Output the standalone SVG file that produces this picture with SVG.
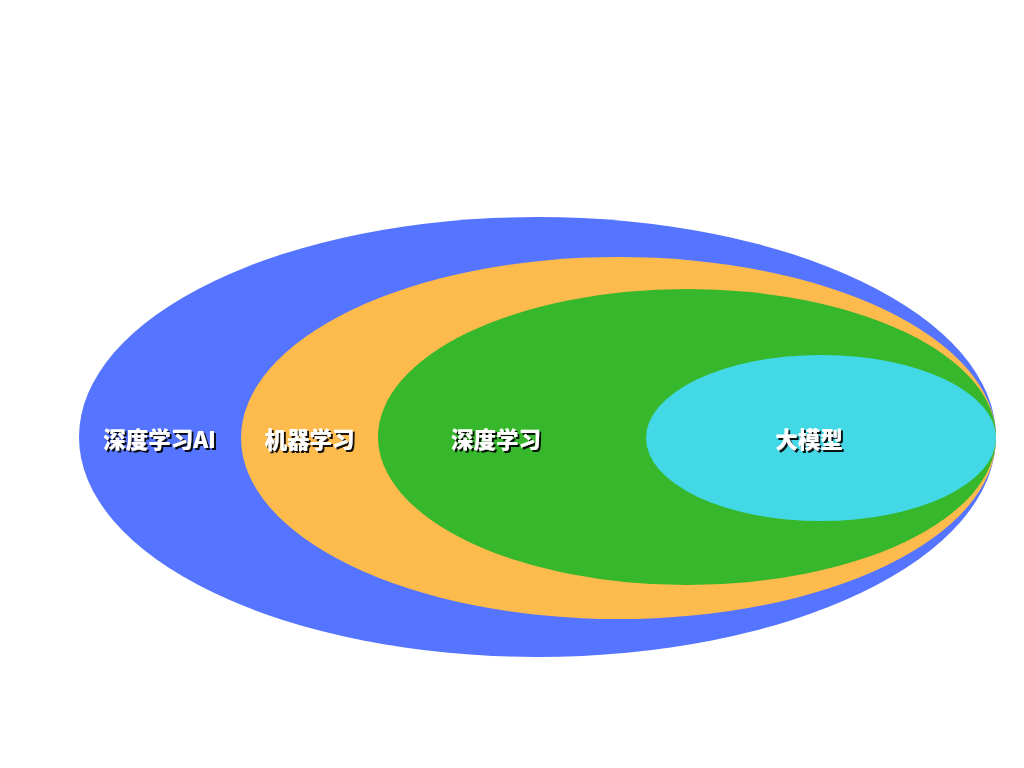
<svg xmlns="http://www.w3.org/2000/svg" width="1024" height="768" viewBox="0 0 1024 768">
<defs>
<filter id="sh" x="-10%" y="-30%" width="130%" height="170%">
<feDropShadow dx="2" dy="2" stdDeviation="0.6" flood-color="#000" flood-opacity="0.9"/>
</filter>
<style>
.lbl{font-family:"Noto Sans CJK SC","Liberation Sans",sans-serif;font-weight:900;font-size:22.5px;fill:#fff;text-anchor:middle;dominant-baseline:central;filter:url(#sh)}
</style>
</defs>
<rect width="1024" height="768" fill="#fff"/>
<g id="ai">
<ellipse cx="537.5" cy="437" rx="458.5" ry="220" fill="#5574ff"/>
<text class="lbl" x="159.5" y="438">深度学习AI</text>
</g>
<g id="ml">
<ellipse cx="618.5" cy="438" rx="377.5" ry="181" fill="#fdba4d"/>
<text class="lbl" x="309.5" y="438">机器学习</text>
</g>
<g id="dl">
<ellipse cx="687" cy="437" rx="309" ry="148" fill="#37b72b"/>
<text class="lbl" x="496" y="438">深度学习</text>
</g>
<g id="llm">
<ellipse cx="821" cy="438" rx="175" ry="83" fill="#43d8e6"/>
<text class="lbl" x="809" y="438">大模型</text>
</g>
<g id="connectors"/>
</svg>
